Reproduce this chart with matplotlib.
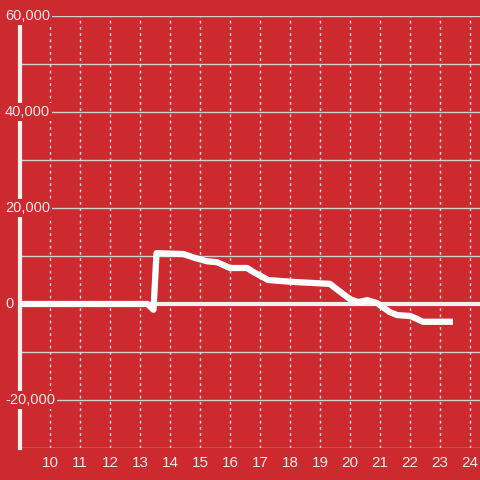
import matplotlib.pyplot as plt
import numpy as np

plt.rcParams['font.family'] = ['Liberation Sans', 'DejaVu Sans']

# hours of the day and running value
hours = [9.0, 13.25, 13.45, 13.55, 14.45, 14.83, 15.23, 15.57, 16.0, 16.57,
         16.77, 17.27, 18.1, 19.0, 19.33, 19.43, 20.0, 20.27, 20.57, 20.9,
         21.33, 21.57, 22.0, 22.23, 22.43, 23.43]
values = [0, 0, -1200, 10600, 10400, 9600, 8900, 8700, 7500, 7500,
          6700, 5000, 4600, 4300, 4200, 3700, 1000, 400, 800, 200,
          -1700, -2300, -2500, -3100, -3700, -3700]

x_ticks = list(range(10, 25))
y_grid = list(range(-30000, 60001, 10000))
y_labels = [-20000, 0, 20000, 40000, 60000]

bg = '#cc2a2f'
txt = '#f2eaea'

fig = plt.figure(figsize=(4.8, 4.8), dpi=100)
fig.patch.set_facecolor(bg)
ax = fig.add_axes([20 / 480, 32 / 480, 460 / 480, 432 / 480])
ax.set_facecolor(bg)

ax.set_xlim(9.0, 24.333)
ax.set_ylim(-30000, 60000)

for v in y_grid:
    ax.axhline(v, color='#d0d0d0', lw=1, zorder=1)
ax.axhline(0, color='#f5f0f0', lw=3, zorder=2)
for h in x_ticks:
    ax.axvline(h, color='#e8dede', lw=1, ls=(0, (2, 2.5)), zorder=1)

ax.plot(hours, values, color='white', lw=4.5, solid_joinstyle='round',
        solid_capstyle='butt', zorder=4)

for s in ['top', 'right', 'bottom']:
    ax.spines[s].set_visible(False)
ax.spines['left'].set_color('#f5f0f0')
ax.spines['left'].set_linewidth(3)
ax.spines['left'].set_zorder(3)

ax.set_xticks(x_ticks)
ax.set_xticklabels([str(h) for h in x_ticks])
ax.set_yticks([])
ax.tick_params(axis='x', length=0, pad=6, labelsize=11, labelcolor=txt)

for v in y_labels:
    ax.text(-15 / 460, v, f'{v:,}', transform=ax.get_yaxis_transform(),
            ha='left', va='center', fontsize=10.5, color=txt, zorder=5,
            clip_on=False,
            bbox=dict(facecolor=bg, edgecolor='none', pad=1.5))

fig.savefig('out.png', dpi=100, facecolor=bg)
